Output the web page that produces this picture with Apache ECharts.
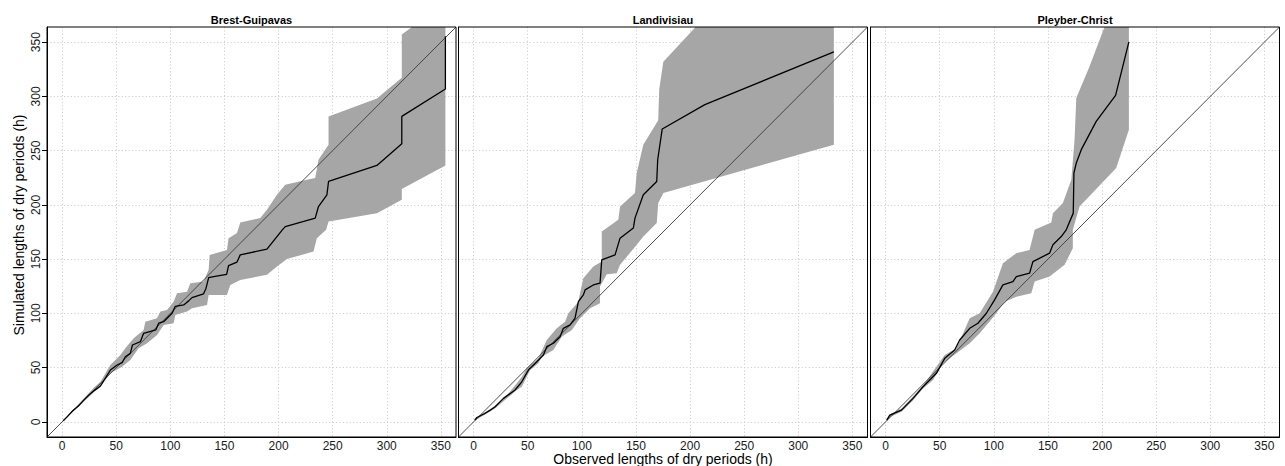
<!DOCTYPE html>
<html><head><meta charset="utf-8">
<script src="https://cdn.jsdelivr.net/npm/echarts@6/dist/echarts.min.js"></script>
<style>html,body{margin:0;padding:0;background:#fff}#c{width:1285px;height:466px}</style>
</head><body><div id="c"></div>
<script>
// ---- data (observed hours, simulated hours) ----
const stations = ['Brest-Guipavas', 'Landivisiau', 'Pleyber-Christ'];
const tickValues = [0, 50, 100, 150, 200, 250, 300, 350];
const xTitle = 'Observed lengths of dry periods (h)';
const yTitle = 'Simulated lengths of dry periods (h)';

const brestLine = [[1,1],[5,5],[10,10.5],[15,14.5],[20,20],[25,25],[30,29],[35.4,33],[44.6,47.7],[50.8,52.4],[55.4,54.5],[58.4,60],[63,63.1],[65,70.8],[72.3,73.9],[75.3,81.6],[86.5,84.7],[89.2,90.9],[93.8,92.3],[101.6,100.1],[104.6,106.5],[112.3,107.8],[116.9,111.5],[120,114.5],[130.7,118],[133,123.2],[135.4,133],[140,133.9],[152,136],[153.8,144],[161.6,147.3],[164.6,153.9],[189.3,159.2],[203.5,177],[206.2,180],[233.9,187.8],[236.9,198.5],[244.7,209.3],[246.2,221.6],[290.9,236.4],[313.9,256.4],[313.9,281.6],[354.2,306.9],[354.2,355.5]];
const brestUpper = [[0,0.5],[10,11],[20,21.5],[30,32],[35.4,37],[44.6,52.4],[53.8,61.6],[58.4,67.8],[66.1,77],[75.3,84.7],[76.9,92.3],[87.7,95.5],[90.8,101.6],[96.9,103.1],[103,110.8],[106.2,118.6],[115.4,120],[118.5,127.8],[130.7,129.3],[135.4,140.1],[136.3,153.9],[152.3,158.5],[153.8,169.3],[161.6,174],[164.6,183.7],[183.1,187.8],[189.3,195.5],[198.5,209.3],[206.2,218.6],[226.2,223.2],[233.9,224.7],[236.9,241.6],[246.2,255.5],[246.2,281.6],[290.9,298],[313.9,317.1],[313.9,357],[324.7,365],[354.2,380]];
const brestLower = [[0,-0.5],[10,9],[20,18.5],[30,28],[35.4,32.3],[44.6,44.7],[55.4,50.8],[63,57],[70.7,67.8],[78.5,72.4],[87.7,80.1],[93.8,89.3],[103,90.9],[104.6,98.5],[115.4,101.6],[120,104.7],[133.9,107.8],[135.4,117],[152.3,117],[155.4,126.2],[164.6,130.8],[189.3,135.5],[198.5,143.1],[207.7,150],[232.3,157],[235.4,169.3],[244,177],[246.2,184.7],[290.9,192.4],[313.9,204.7],[313.9,214.6],[354.2,236.4]];

const landLine = [[1,1.6],[3,4],[10,7.5],[15,10.5],[19.9,13.9],[27.5,21.6],[38.3,29.3],[44.5,36.9],[50.6,47.7],[58.4,55.4],[64.5,61.6],[67.6,69.3],[73.7,72.4],[79.9,78.5],[82.9,86.2],[89.1,89.3],[93.7,95.5],[96.8,110.8],[101.4,117],[103,121.6],[110.6,126.2],[116.8,127.8],[118.4,149.3],[130.7,153.9],[135.3,169.3],[147.6,178.6],[149.1,187.8],[156.8,209.3],[169.2,221.6],[170.1,241.6],[174.3,270],[213.7,292.4],[332.9,341.1]];
const landUpper = [[1,2],[20,15],[30,23.5],[39.9,35.5],[44.5,41.6],[49.1,49.3],[59.8,58.5],[67.6,75.4],[76.8,86.2],[84.5,92.3],[87.5,100.1],[96.8,110.8],[98.3,118.6],[101.4,132.4],[110.6,143.1],[118.4,147.7],[118.4,175.4],[133.7,186.2],[135.3,198.5],[149.1,210.9],[150.7,229.4],[156.8,255.5],[170.6,278],[171.5,306.3],[175.3,332],[203,361.7],[213.7,375],[332.9,420]];
const landLower = [[1,1],[20,12.5],[30,21],[39.9,29.3],[44.5,32.3],[52.2,47.7],[59.8,53.9],[63,60],[73.7,66.2],[81.4,78.5],[90.7,84.7],[98.3,95.5],[107.6,104.7],[116.8,109.3],[116.8,124.7],[123,136],[132.2,137],[135.3,144.7],[150.7,163.2],[156.8,170.8],[169.2,183.2],[170.6,201.7],[175.3,210.9],[332.9,255.5]];

const pleyLine = [[1,1.6],[3.8,6.2],[14.6,10.8],[25.3,21.6],[34.5,32.3],[42.3,40.1],[46.9,44.7],[54.6,58.5],[63.8,66.2],[68.4,75.4],[77.7,86.2],[85.3,90.9],[93.1,100.1],[100.7,112.4],[108.4,126.2],[117.6,129.3],[120.8,133.9],[133,137],[136.1,147.7],[151.5,155.5],[154.6,163.2],[162.3,170.8],[166.9,177],[173.4,192.4],[174,229.4],[176.2,238.6],[180.8,250.9],[194.6,277],[212.5,301],[224.8,350.3]];
const pleyUpper = [[1,2],[5,7.5],[15,12.5],[25,23],[35,34],[46.9,50.8],[54.6,61.6],[65.4,67.8],[77.7,95.5],[86.9,100.1],[99.2,120],[108.4,146.2],[120.8,155.5],[133,158.5],[137.7,177],[153.1,183.7],[154.6,192.4],[163.8,201.7],[171.6,223.2],[174.6,260.1],[176.2,298.6],[188.5,327.8],[202.3,364.1],[224.8,400]];
const pleyLower = [[1,1],[5,5],[15,9.5],[25,19.5],[34.5,30.8],[43.8,38.5],[53,53.9],[65.4,63.1],[77.7,72.4],[86.9,81.6],[100,97],[110,110.8],[120.8,115.4],[134.6,118.6],[137.7,129.3],[151.5,134],[165.4,144.7],[173,160.1],[173,177],[179.2,198.5],[213.1,234],[224.8,269.3]];

const diagonal = [[-14,-14],[364,364]];

// ---- chart ----
const FONT = '"Liberation Sans", Arial, Helvetica, sans-serif';
const panels = [
  {line: brestLine, upper: brestUpper, lower: brestLower},
  {line: landLine, upper: landUpper, lower: landLower},
  {line: pleyLine, upper: pleyUpper, lower: pleyLower}
];
const gridLefts = [47, 458.5, 870.5];
const GW = 409, GT = 27, GH = 410;
const AMIN = -14, AMAX = 364;

const chart = echarts.init(document.getElementById('c'), null, {renderer: 'svg'});
const grids = [], xAxes = [], yAxes = [], series = [], graphics = [];
const splitLine = {show: true, lineStyle: {color: '#cfcfcf', type: [1.2, 2.2], width: 1}};

panels.forEach((p, i) => {
  grids.push({left: gridLefts[i], top: GT, width: GW, height: GH, show: true, z: 10,
    backgroundColor: 'transparent', borderColor: '#000', borderWidth: 1});
  xAxes.push({type: 'value', gridIndex: i, min: AMIN, max: AMAX,
    axisLine: {show: true, onZero: false, lineStyle: {color: '#000'}},
    axisTick: {show: false, customValues: tickValues},
    axisLabel: {customValues: tickValues, margin: 3, fontSize: 12, color: '#1a1a1a', fontFamily: FONT},
    splitLine: splitLine});
  yAxes.push({type: 'value', gridIndex: i, min: AMIN, max: AMAX,
    axisLine: {show: true, onZero: false, lineStyle: {color: '#000'}},
    axisTick: {show: i === 0, length: 5, customValues: tickValues, lineStyle: {color: '#000'}},
    axisLabel: {show: i === 0, customValues: tickValues, rotate: 90, margin: 5, fontSize: 12, color: '#1a1a1a', fontFamily: FONT},
    splitLine: splitLine});
  const poly = p.upper.concat(p.lower.slice().reverse());
  series.push({type: 'custom', xAxisIndex: i, yAxisIndex: i, clip: true, z: 1, silent: true,
    data: poly, encode: {x: 0, y: 1},
    renderItem: (params, api) => {
      if (params.dataIndex !== 0) return null;
      return {type: 'polygon', shape: {points: poly.map(pt => api.coord(pt))}, style: {fill: '#a6a6a6'}};
    }});
  series.push({type: 'line', xAxisIndex: i, yAxisIndex: i, data: diagonal, symbol: 'none', z: 2,
    lineStyle: {color: '#3a3a3a', width: 0.9}, silent: true});
  series.push({type: 'line', xAxisIndex: i, yAxisIndex: i, data: p.line, symbol: 'none', z: 3,
    lineStyle: {color: '#000', width: 1.3}, silent: true});
  graphics.push({type: 'text', x: gridLefts[i] + GW / 2, y: 20,
    style: {text: stations[i], font: 'bold 11px ' + FONT, fill: '#000',
      align: 'center', verticalAlign: 'middle', textAlign: 'center', textVerticalAlign: 'middle'}});
});

graphics.push({type: 'text', x: gridLefts[1] + GW / 2, y: 459,
  style: {text: xTitle, font: '14px ' + FONT, fill: '#000',
    align: 'center', verticalAlign: 'middle', textAlign: 'center', textVerticalAlign: 'middle'}});
graphics.push({type: 'text', x: 19, y: 225, rotation: Math.PI / 2,
  style: {text: yTitle, font: '14px ' + FONT, fill: '#000',
    align: 'center', verticalAlign: 'middle', textAlign: 'center', textVerticalAlign: 'middle'}});

chart.setOption({
  animation: false,
  backgroundColor: '#fff',
  grid: grids, xAxis: xAxes, yAxis: yAxes, series: series, graphic: graphics
});
</script>
</body></html>
